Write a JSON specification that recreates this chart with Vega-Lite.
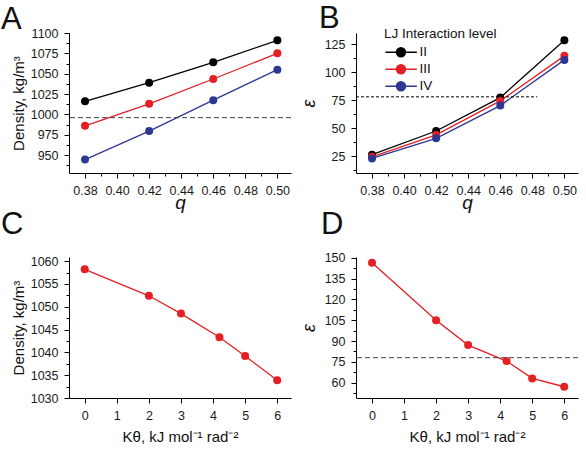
{
  "$schema": "https://vega.github.io/schema/vega-lite/v6.json",
  "padding": {"left": 1, "top": 3, "right": 0, "bottom": 0},
  "background": "white",
  "config": {
    "font": "Liberation Sans",
    "view": {"stroke": null},
    "axis": {
      "grid": false, "domainColor": "#000", "tickColor": "#000", "labelColor": "#1a1a1a",
      "labelFontSize": 12.5, "labelFont": "Liberation Sans", "titleFont": "Liberation Sans",
      "titleFontWeight": "normal", "titleColor": "#111", "labelOverlap": false, "labelBound": false,
      "labelFlush": false, "domainWidth": 1, "tickWidth": 1, "labelPadding": 6, "tickCount": 100
    },
    "title": {"anchor": "start", "frame": "group", "fontSize": 31, "fontWeight": "normal", "font": "Liberation Sans", "baseline": "alphabetic", "color": "#111"}
  },
  "datasets": {
    "qdata": [
      {"q": 0.38, "level": "II", "density": 1016, "eps": 26.4},
      {"q": 0.42, "level": "II", "density": 1039, "eps": 47.5},
      {"q": 0.46, "level": "II", "density": 1064, "eps": 77.3},
      {"q": 0.50, "level": "II", "density": 1091, "eps": 128.5},
      {"q": 0.38, "level": "III", "density": 986, "eps": 24.4},
      {"q": 0.42, "level": "III", "density": 1013, "eps": 44},
      {"q": 0.46, "level": "III", "density": 1043.5, "eps": 74.4},
      {"q": 0.50, "level": "III", "density": 1075, "eps": 114.6},
      {"q": 0.38, "level": "IV", "density": 944.5, "eps": 23},
      {"q": 0.42, "level": "IV", "density": 979.5, "eps": 41},
      {"q": 0.46, "level": "IV", "density": 1017.5, "eps": 70.2},
      {"q": 0.50, "level": "IV", "density": 1055, "eps": 111}
    ],
    "kdata": [
      {"k": 0, "density": 1058.2, "eps": 146.4},
      {"k": 2, "density": 1052.4, "eps": 105},
      {"k": 3, "density": 1048.5, "eps": 87.1},
      {"k": 4.2, "density": 1043.3, "eps": 75.6},
      {"k": 5, "density": 1039.2, "eps": 63.1},
      {"k": 6, "density": 1033.9, "eps": 57.1}
    ]
  },
  "columns": 2,
  "spacing": {"row": 84, "column": 65},
  "bounds": "flush",
  "resolve": {"scale": {"color": "independent"}, "legend": {"color": "independent"}},
  "concat": [
    {
      "width": 222, "height": 140,
      "title": {"text": "A", "dx": -68, "offset": -9},
      "layer": [
        {
          "data": {"name": "qdata"},
          "mark": {"type": "line", "strokeWidth": 1.3},
          "encoding": {
            "x": {"field": "q", "type": "quantitative", "scale": {"domain": [0.37, 0.5085], "nice": false, "zero": false},
              "axis": {"values": [0.38,0.39,0.40,0.41,0.42,0.43,0.44,0.45,0.46,0.47,0.48,0.49,0.50], "format": ".2f", "labelOverlap": false, "tickCount": 100,
                "labelExpr": "round(datum.value*100) % 2 == 0 ? datum.label : ''",
                "tickSize": {"condition": {"test": "round(datum.value*100) % 2 == 0", "value": 5}, "value": 3},
                "title": "q", "titleFontStyle": "italic", "titleFontSize": 19, "titlePadding": -3}},
            "y": {"field": "density", "type": "quantitative", "scale": {"domain": [928, 1100], "nice": false, "zero": false},
              "axis": {"values": [937.5,950,962.5,975,987.5,1000,1012.5,1025,1037.5,1050,1062.5,1075,1087.5,1100], "format": "d", "labelOverlap": false, "tickCount": 100,
                "labelExpr": "datum.value % 25 == 0 ? datum.label : ''",
                "tickSize": {"condition": {"test": "datum.value % 25 == 0", "value": 5}, "value": 3},
                "title": "Density, kg/m³", "titleFontSize": 15, "titlePadding": 4}},
            "color": {"field": "level", "type": "nominal", "scale": {"domain": ["II","III","IV"], "range": ["#000000","#e41f26","#2c3892"]}, "legend": null}
          }
        },
        {
          "data": {"name": "qdata"},
          "mark": {"type": "point", "filled": true, "size": 64, "opacity": 1},
          "encoding": {
            "x": {"field": "q", "type": "quantitative"},
            "y": {"field": "density", "type": "quantitative"},
            "color": {"field": "level", "type": "nominal", "legend": null}
          }
        },
        {
          "data": {"values": [{}]},
          "mark": {"type": "rule", "strokeDash": [5, 3], "color": "#444", "strokeWidth": 1},
          "encoding": {"y": {"datum": 996}}
        }
      ]
    },
    {
      "width": 222, "height": 140,
      "title": {"text": "B", "dx": -37, "offset": -8},
      "layer": [
        {
          "data": {"name": "qdata"},
          "mark": {"type": "line", "strokeWidth": 1.3},
          "encoding": {
            "x": {"field": "q", "type": "quantitative", "scale": {"domain": [0.37, 0.5085], "nice": false, "zero": false},
              "axis": {"values": [0.38,0.39,0.40,0.41,0.42,0.43,0.44,0.45,0.46,0.47,0.48,0.49,0.50], "format": ".2f", "labelOverlap": false, "tickCount": 100,
                "labelExpr": "round(datum.value*100) % 2 == 0 ? datum.label : ''",
                "tickSize": {"condition": {"test": "round(datum.value*100) % 2 == 0", "value": 5}, "value": 3},
                "title": "q", "titleFontStyle": "italic", "titleFontSize": 19, "titlePadding": -3}},
            "y": {"field": "eps", "type": "quantitative", "scale": {"domain": [10, 135], "nice": false, "zero": false},
              "axis": {"values": [12.5,25,37.5,50,62.5,75,87.5,100,112.5,125], "format": "d", "labelOverlap": false, "tickCount": 100,
                "labelExpr": "datum.value % 25 == 0 ? datum.label : ''",
                "tickSize": {"condition": {"test": "datum.value % 25 == 0", "value": 5}, "value": 3},
                "title": "ε", "titleFontStyle": "italic", "titleFontSize": 18, "titlePadding": 6}},
            "color": {"field": "level", "type": "nominal", "scale": {"domain": ["II","III","IV"], "range": ["#000000","#e41f26","#2c3892"]},
              "legend": {"title": "LJ Interaction level", "orient": "none", "legendX": 28, "legendY": -6,
                "titleFontSize": 13.5, "titleFontWeight": "normal", "titleFont": "Liberation Sans", "titleColor": "#111", "titlePadding": 5,
                "labelFontSize": 13.5, "labelFont": "Liberation Sans", "labelColor": "#111", "labelOffset": 22,
                "symbolType": "M-1.2,0H5.8M3.27,0A1,1,0,1,1,1.27,0A1,1,0,1,1,3.27,0Z", "symbolSize": 81, "rowPadding": 2, "clipHeight": 13.5, "padding": 0,
                "encode": {"symbols": {"update": {
                  "fill": {"signal": "datum.value == 'II' ? '#000000' : datum.value == 'III' ? '#e41f26' : '#2c3892'"},
                  "stroke": {"signal": "datum.value == 'II' ? '#000000' : datum.value == 'III' ? '#e41f26' : '#2c3892'"},
                  "strokeWidth": {"value": 1.5}, "opacity": {"value": 1}}}}}}
          }
        },
        {
          "data": {"name": "qdata"},
          "mark": {"type": "point", "filled": true, "size": 64, "opacity": 1},
          "encoding": {
            "x": {"field": "q", "type": "quantitative"},
            "y": {"field": "eps", "type": "quantitative"},
            "color": {"field": "level", "type": "nominal"}
          }
        },
        {
          "data": {"values": [{}]},
          "mark": {"type": "rule", "strokeDash": [3, 2], "color": "#000", "strokeWidth": 1},
          "encoding": {"x": {"datum": 0.37}, "x2": {"datum": 0.483}, "y": {"datum": 78}}
        }
      ]
    },
    {
      "width": 222, "height": 141,
      "title": {"text": "C", "dx": -68, "offset": 14},
      "data": {"name": "kdata"},
      "layer": [
        {
          "mark": {"type": "line", "strokeWidth": 1.3, "color": "#e41f26"},
          "encoding": {
            "x": {"field": "k", "type": "quantitative", "scale": {"domain": [-0.49, 6.43], "nice": false, "zero": false},
              "axis": {"values": [0,0.5,1,1.5,2,2.5,3,3.5,4,4.5,5,5.5,6], "format": "d", "labelOverlap": false, "tickCount": 100,
                "labelExpr": "datum.value % 1 == 0 ? datum.label : ''",
                "tickSize": {"condition": {"test": "datum.value % 1 == 0", "value": 5}, "value": 3},
                "title": "Kθ, kJ mol⁻¹ rad⁻²", "titleFontSize": 15, "titlePadding": 8}},
            "y": {"field": "density", "type": "quantitative", "scale": {"domain": [1030, 1060.9], "nice": false, "zero": false},
              "axis": {"values": [1030,1032.5,1035,1037.5,1040,1042.5,1045,1047.5,1050,1052.5,1055,1057.5,1060], "format": "d", "labelOverlap": false, "tickCount": 100,
                "labelExpr": "datum.value % 5 == 0 ? datum.label : ''",
                "tickSize": {"condition": {"test": "datum.value % 5 == 0", "value": 5}, "value": 3},
                "title": "Density, kg/m³", "titleFontSize": 15, "titlePadding": 4}}
          }
        },
        {
          "mark": {"type": "point", "filled": true, "size": 64, "opacity": 1, "color": "#e41f26"},
          "encoding": {
            "x": {"field": "k", "type": "quantitative"},
            "y": {"field": "density", "type": "quantitative"}
          }
        }
      ]
    },
    {
      "width": 222, "height": 141,
      "title": {"text": "D", "dx": -35, "offset": 11},
      "layer": [
        {
          "data": {"name": "kdata"},
          "mark": {"type": "line", "strokeWidth": 1.3, "color": "#e41f26"},
          "encoding": {
            "x": {"field": "k", "type": "quantitative", "scale": {"domain": [-0.5, 6.43], "nice": false, "zero": false},
              "axis": {"values": [0,0.5,1,1.5,2,2.5,3,3.5,4,4.5,5,5.5,6], "format": "d", "labelOverlap": false, "tickCount": 100,
                "labelExpr": "datum.value % 1 == 0 ? datum.label : ''",
                "tickSize": {"condition": {"test": "datum.value % 1 == 0", "value": 5}, "value": 3},
                "title": "Kθ, kJ mol⁻¹ rad⁻²", "titleFontSize": 15, "titlePadding": 8}},
            "y": {"field": "eps", "type": "quantitative", "scale": {"domain": [49, 150.5], "nice": false, "zero": false},
              "axis": {"values": [52.5,60,67.5,75,82.5,90,97.5,105,112.5,120,127.5,135,142.5,150], "format": "d", "labelOverlap": false, "tickCount": 100,
                "labelExpr": "datum.value % 15 == 0 ? datum.label : ''",
                "tickSize": {"condition": {"test": "datum.value % 15 == 0", "value": 5}, "value": 3},
                "title": "ε", "titleFontStyle": "italic", "titleFontSize": 18, "titlePadding": 6}}
          }
        },
        {
          "data": {"name": "kdata"},
          "mark": {"type": "point", "filled": true, "size": 64, "opacity": 1, "color": "#e41f26"},
          "encoding": {
            "x": {"field": "k", "type": "quantitative"},
            "y": {"field": "eps", "type": "quantitative"}
          }
        },
        {
          "data": {"values": [{}]},
          "mark": {"type": "rule", "strokeDash": [5, 3], "color": "#444", "strokeWidth": 1},
          "encoding": {"y": {"datum": 78}}
        }
      ]
    }
  ]
}
